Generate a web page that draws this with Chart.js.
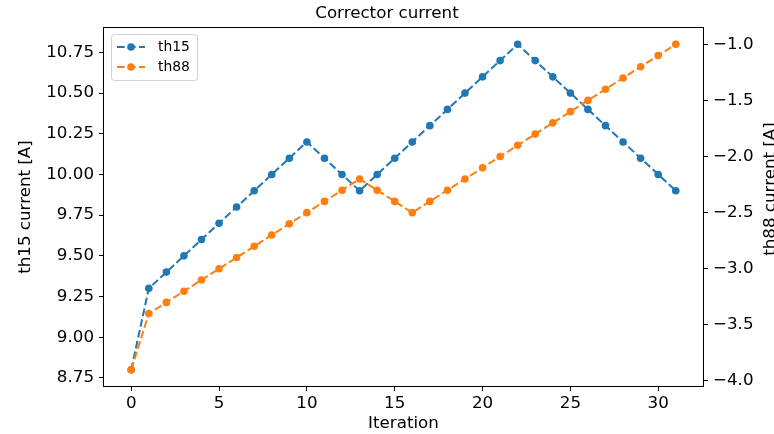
<!DOCTYPE html>
<html>
<head>
<meta charset="utf-8">
<script src="https://cdn.jsdelivr.net/npm/chart.js@4"></script>
<style>
  html, body { margin: 0; padding: 0; background: #fff; }
  #wrap { width: 774px; height: 434px; }
</style>
</head>
<body>
<div id="wrap"><canvas id="currentChart" width="774" height="434"></canvas></div>
<script>
// Corrector currents per iteration
const iterations = [0, 1, 2, 3, 4, 5, 6, 7, 8, 9, 10, 11, 12, 13, 14, 15,
    16, 17, 18, 19, 20, 21, 22, 23, 24, 25, 26, 27, 28, 29, 30, 31];
const th15 = [8.8, 9.3, 9.4, 9.5, 9.6, 9.7, 9.8, 9.9, 10.0, 10.1, 10.2, 10.1, 10.0, 9.9, 10.0, 10.1,
    10.2, 10.3, 10.4, 10.5, 10.6, 10.7, 10.8, 10.7, 10.6, 10.5, 10.4, 10.3, 10.2, 10.1, 10.0, 9.9];
const th88 = [-3.9, -3.4, -3.3, -3.2, -3.1, -3.0, -2.9, -2.8, -2.7, -2.6, -2.5, -2.4, -2.3, -2.2, -2.3, -2.4,
    -2.5, -2.4, -2.3, -2.2, -2.1, -2.0, -1.9, -1.8, -1.7, -1.6, -1.5, -1.4, -1.3, -1.2, -1.1, -1.0];

const xTicks = [0, 5, 10, 15, 20, 25, 30];
const th15Ticks = [8.75, 9.0, 9.25, 9.5, 9.75, 10.0, 10.25, 10.5, 10.75];
const th88Ticks = [-4.0, -3.5, -3.0, -2.5, -2.0, -1.5, -1.0];

const BLUE = '#1f77b4';
const ORANGE = '#ff7f0e';
const FONT = 'DejaVu Sans';
const RIGHT_TITLE = 'th88 current [A]';

const toPoints = (ys) => iterations.map((x, i) => ({ x, y: ys[i] }));
const minus = (s) => s.replace('-', '\u2212');

// Axes frame (all four spines)
const framePlugin = {
    id: 'frame',
    afterDatasetsDraw: (chart) => {
        const a = chart.chartArea;
        const ctx = chart.ctx;
        ctx.save();
        ctx.strokeStyle = '#000';
        ctx.lineWidth = 1;
        ctx.strokeRect(Math.round(a.left) - 0.5, Math.round(a.top) - 0.5,
            Math.round(a.right - a.left) + 1, Math.round(a.bottom - a.top) + 1);
        ctx.restore();
    }
};

// Right axis title, reading bottom to top like the left one
const rightTitle = {
    id: 'rightTitle',
    afterDraw: (chart) => {
        const ctx = chart.ctx;
        ctx.save();
        ctx.translate(chart.width - 3, 189);
        ctx.rotate(-Math.PI / 2);
        ctx.fillStyle = '#000';
        ctx.font = `16.7px "${FONT}"`;
        ctx.textAlign = 'center';
        ctx.textBaseline = 'middle';
        ctx.fillText(RIGHT_TITLE, 0, 0);
        ctx.restore();
    }
};

// Legend box in the upper left corner of the plot
const innerLegend = {
    id: 'innerLegend',
    afterDraw: (chart) => {
        const ctx = chart.ctx;
        const a = chart.chartArea;
        const x = a.left + 7, y = a.top + 6, w = 86, h = 46;
        ctx.save();
        ctx.beginPath();
        if (ctx.roundRect) ctx.roundRect(x + 0.5, y + 0.5, w, h, 3); else ctx.rect(x + 0.5, y + 0.5, w, h);
        ctx.fillStyle = 'rgba(255,255,255,0.8)';
        ctx.fill();
        ctx.strokeStyle = 'rgba(204,204,204,0.9)';
        ctx.lineWidth = 1;
        ctx.stroke();

        chart.data.datasets.forEach((ds, i) => {
            const cy = y + 13 + i * 20;
            ctx.beginPath();
            ctx.setLineDash([7.7, 3.3]);
            ctx.strokeStyle = ds.borderColor;
            ctx.lineWidth = 2;
            ctx.moveTo(x + 6, cy);
            ctx.lineTo(x + 34, cy);
            ctx.stroke();
            ctx.setLineDash([]);
            ctx.beginPath();
            ctx.arc(x + 20, cy, 3.8, 0, Math.PI * 2);
            ctx.fillStyle = ds.borderColor;
            ctx.fill();
            ctx.fillStyle = '#000';
            ctx.font = `13.9px "${FONT}"`;
            ctx.textBaseline = 'middle';
            ctx.fillText(ds.label, x + 47, cy);
        });
        ctx.restore();
    }
};

const lineSet = (label, ys, color, axis, order) => ({
    label,
    data: toPoints(ys),
    yAxisID: axis,
    order,
    borderColor: color,
    backgroundColor: color,
    borderWidth: 2,
    borderDash: [7.7, 3.3],
    pointRadius: 3.8,
    pointBorderWidth: 0,
    pointBackgroundColor: color,
    tension: 0
});

const tickStyle = { color: '#000', font: { family: FONT, size: 16.7 } };
const titleStyle = { color: '#000', font: { family: FONT, size: 16.7, lineHeight: 1.2 } };
const gridStyle = { display: true, drawOnChartArea: false, drawTicks: true, tickLength: 5, tickColor: '#000', tickWidth: 1 };

new Chart(document.getElementById('currentChart').getContext('2d'), {
    type: 'line',
    data: {
        datasets: [
            lineSet('th15', th15, BLUE, 'y', 1),
            lineSet('th88', th88, ORANGE, 'y1', 0)
        ]
    },
    plugins: [framePlugin, innerLegend, rightTitle],
    options: {
        responsive: false,
        animation: false,
        layout: { padding: 0 },
        plugins: {
            legend: { display: false },
            tooltip: { enabled: false },
            title: {
                display: true,
                text: 'Corrector current',
                color: '#000',
                font: { family: FONT, size: 16.7, weight: 'normal', lineHeight: 1.2 },
                padding: { top: 4, bottom: 4 }
            }
        },
        scales: {
            x: {
                type: 'linear',
                min: -1.55,
                max: 32.55,
                grid: gridStyle,
                border: { display: false },
                afterBuildTicks: (s) => { s.ticks = xTicks.map(v => ({ value: v })); },
                afterFit: (s) => { s.height = 48; },
                ticks: { ...tickStyle, padding: 3, maxRotation: 0, callback: (v) => String(v) },
                title: { display: true, text: 'Iteration', ...titleStyle, padding: { top: 0, bottom: 0 } }
            },
            y: {
                position: 'left',
                min: 8.7,
                max: 10.9,
                grid: gridStyle,
                border: { display: false },
                afterBuildTicks: (s) => { s.ticks = th15Ticks.map(v => ({ value: v })); },
                afterFit: (s) => { s.width = 104; },
                ticks: { ...tickStyle, padding: 5, callback: (v) => v.toFixed(2) },
                title: { display: true, text: 'th15 current [A]', ...titleStyle, padding: { top: 16, bottom: 0 } }
            },
            y1: {
                position: 'right',
                min: -4.045,
                max: -0.855,
                grid: gridStyle,
                border: { display: false },
                afterBuildTicks: (s) => { s.ticks = th88Ticks.map(v => ({ value: v })); },
                afterFit: (s) => { s.width = 71; },
                ticks: { ...tickStyle, padding: 5, callback: (v) => minus(v.toFixed(1)) },
                title: { display: false }
            }
        }
    }
});
</script>
</body>
</html>
